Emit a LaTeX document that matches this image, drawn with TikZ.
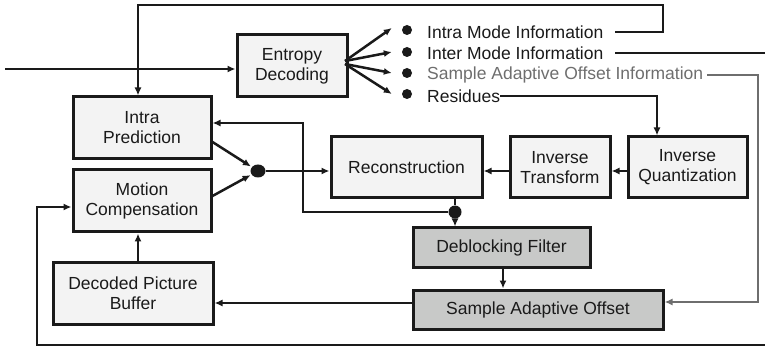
\documentclass[tikz,border=0pt]{standalone}
\usepackage{fontspec}
\setmainfont{Liberation Sans}
\usetikzlibrary{arrows.meta,calc,shapes.geometric}
\definecolor{ink}{HTML}{1A1A1A}
\definecolor{boxfill}{HTML}{F3F3F3}
\definecolor{darkfill}{HTML}{C8C9C8}
\definecolor{saogray}{HTML}{6E6E6E}
\tikzset{>={Latex[length=8pt,width=7pt]},
  every node/.style={font=\fontsize{17.5}{20}\selectfont,text=ink},
  box/.style={draw=ink,fill=boxfill,line width=3pt,align=center,inner sep=0pt},
  darkbox/.style={box,fill=darkfill},
  conn/.style={->,draw=ink,line width=2.5pt},
  wire/.style={draw=ink,line width=2.5pt},
  dotnode/.style={circle,fill=ink,inner sep=0pt,minimum size=11pt},
  infotext/.style={anchor=west,inner sep=0pt}}

\begin{document}
\begin{tikzpicture}[x=1pt,y=-1pt]
\useasboundingbox (0,0) rectangle (765,347);
% blocks
\node[box,minimum width=110pt,minimum height=62pt] (ent) at (292,66) {Entropy\\Decoding};
\node[box,minimum width=138pt,minimum height=62pt] (intra) at (142,128) {Intra\\Prediction};
\node[box,minimum width=138pt,minimum height=62pt] (mc) at (142,201) {Motion\\Compensation};
\node[box,minimum width=160pt,minimum height=62pt] (dpb) at (133,293) {Decoded Picture\\Buffer};
\node[box,minimum width=151pt,minimum height=61pt] (rec) at (406.5,167.5) {Reconstruction};
\node[box,minimum width=100pt,minimum height=61pt] (it) at (560,167.5) {Inverse\\Transform};
\node[box,minimum width=119pt,minimum height=61pt] (iq) at (687.5,167.5) {Inverse\\Quantization};
\node[darkbox,minimum width=177pt,minimum height=39pt] (dbf) at (501.5,247.5) {Deblocking Filter};
\node[darkbox,minimum width=250pt,minimum height=39pt] (sao) at (538,309.5) {Sample Adaptive Offset};
% decoded information
\node[dotnode,minimum size=10pt] (b1) at (407,30) {};
\node[dotnode,minimum size=10pt] (b2) at (407,52) {};
\node[dotnode,minimum size=10pt] (b3) at (407,73) {};
\node[dotnode,minimum size=10pt] (b4) at (407,94) {};
\node[infotext] (t1) at (427,32) {Intra Mode Information};
\node[infotext] (t2) at (427,53) {Inter Mode Information};
\node[infotext,text=saogray] (t3) at (427,75) {Sample Adaptive Offset Information};
\node[infotext] (t4) at (427,96) {Residues};
% junctions
\node[dotnode,ellipse,minimum width=15pt,minimum height=13pt] (j1) at (258,171) {};
\node[dotnode,minimum width=13pt,minimum height=13pt] (j2) at (455,212) {};
\coordinate (in) at (5,69);
\coordinate (fanA) at (345,61);
\coordinate (fanB) at (345,64);
\coordinate (loopR) at (765,345);
\coordinate (interR) at (765,53);
% connectors
\draw[conn] (in) -- (in -| ent.west);
\draw[conn] ($(t1.east)+(12,0)$) -- (663,32) -- (663,5) -- (138,5) -- (138,0 |- intra.north);
\draw[wire] ($(t2.east)+(12,0)$) -- (interR);
\draw[conn,draw=saogray] ($(t3.east)+(4,0)$) -- (758,75) -- (758,302) -- (sao.east |- 0,302);
\draw[conn] (t4.east) -- (657,96) -- (657,0 |- iq.north);
\draw[conn] (fanA) -- ($(b1.west)+(-10,-2)$);
\draw[conn] (fanA) -- ($(b2.west)+(-10,0)$);
\draw[conn] (fanB) -- ($(b3.west)+(-10,0)$);
\draw[conn] (fanB) -- ($(b4.west)+(-10,0)$);
\draw[conn,shorten >=1pt] (intra.east |- 0,142) -- (j1);
\draw[conn,shorten >=1pt] (mc.east |- 0,196) -- (j1);
\draw[conn] (j1) -- (j1 -| rec.west);
\draw[conn] (iq.west |- 0,171) -- (it.east |- 0,171);
\draw[conn] (it.west |- 0,171) -- (rec.east |- 0,171);
\draw[wire] (rec.south -| j2) -- (j2);
\draw[conn] (j2) -- (j2 |- dbf.north);
\draw[conn] (j2) -- (303,212) -- (303,123) -- (intra.east |- 0,123);
\draw[conn] (dbf.south -| 503,0) -- (sao.north -| 503,0);
\draw[conn] (sao.west |- 0,303) -- (dpb.east |- 0,303);
\draw[conn] (dpb.north -| 138,0) -- (mc.south -| 138,0);
\draw[conn] (loopR) -- (37,345) -- (37,207) -- (mc.west |- 0,207);
\end{tikzpicture}
\end{document}
